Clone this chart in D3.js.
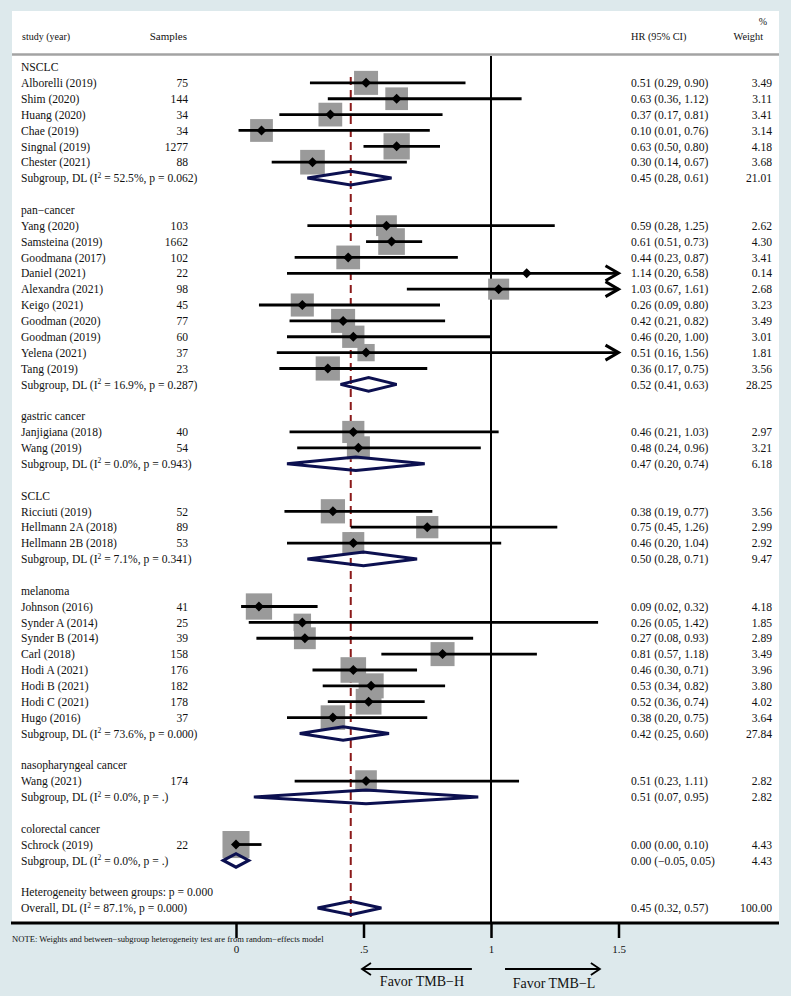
<!DOCTYPE html>
<html>
<head>
<meta charset="utf-8">
<script src="https://cdn.jsdelivr.net/npm/d3@7"></script>
<style>
  html, body { margin: 0; padding: 0; background: #dde9ec; }
  svg { display: block; }
  text { font-family: "Liberation Serif", "Times New Roman", serif; fill: #111; }
</style>
</head>
<body>
<svg id="chart" width="791" height="996"></svg>
<script>
// ---------------- DATA ----------------
const groupNames = ["NSCLC", "pan\u2212cancer", "gastric cancer", "SCLC", "melanoma", "nasopharyngeal cancer", "colorectal cancer"];

const studyNames = [
  "Alborelli (2019)", "Shim (2020)", "Huang (2020)", "Chae (2019)", "Singnal (2019)", "Chester (2021)",
  "Yang (2020)", "Samsteina (2019)", "Goodmana (2017)", "Daniel (2021)", "Alexandra (2021)", "Keigo (2021)",
  "Goodman (2020)", "Goodman (2019)", "Yelena (2021)", "Tang (2019)",
  "Janjigiana (2018)", "Wang (2019)",
  "Ricciuti (2019)", "Hellmann 2A (2018)", "Hellmann 2B (2018)",
  "Johnson (2016)", "Synder A (2014)", "Synder B (2014)", "Carl (2018)", "Hodi A (2021)", "Hodi B (2021)",
  "Hodi C (2021)", "Hugo (2016)",
  "Wang (2021)",
  "Schrock (2019)"
];
const studyGroup = [0,0,0,0,0,0, 1,1,1,1,1,1,1,1,1,1, 2,2, 3,3,3, 4,4,4,4,4,4,4,4, 5, 6];
const studySamples = [75,144,34,34,1277,88, 103,1662,102,22,98,45,77,60,37,23, 40,54, 52,89,53, 41,25,39,158,176,182,178,37, 174, 22];
const studyHR = [0.51,0.63,0.37,0.10,0.63,0.30, 0.59,0.61,0.44,1.14,1.03,0.26,0.42,0.46,0.51,0.36, 0.46,0.48, 0.38,0.75,0.46, 0.09,0.26,0.27,0.81,0.46,0.53,0.52,0.38, 0.51, 0.00];
const studyLo = [0.29,0.36,0.17,0.01,0.50,0.14, 0.28,0.51,0.23,0.20,0.67,0.09,0.21,0.20,0.16,0.17, 0.21,0.24, 0.19,0.45,0.20, 0.02,0.05,0.08,0.57,0.30,0.34,0.36,0.20, 0.23, 0.00];
const studyHi = [0.90,1.12,0.81,0.76,0.80,0.67, 1.25,0.73,0.87,6.58,1.61,0.80,0.82,1.00,1.56,0.75, 1.03,0.96, 0.77,1.26,1.04, 0.32,1.42,0.93,1.18,0.71,0.82,0.74,0.75, 1.11, 0.10];
const studyWeight = [3.49,3.11,3.41,3.14,4.18,3.68, 2.62,4.30,3.41,0.14,2.68,3.23,3.49,3.01,1.81,3.56, 2.97,3.21, 3.56,2.99,2.92, 4.18,1.85,2.89,3.49,3.96,3.80,4.02,3.64, 2.82, 4.43];

const subHR = [0.45, 0.52, 0.47, 0.50, 0.42, 0.51, 0.00];
const subLo = [0.28, 0.41, 0.20, 0.28, 0.25, 0.07, -0.05];
const subHi = [0.61, 0.63, 0.74, 0.71, 0.60, 0.95, 0.05];
const subWeight = [21.01, 28.25, 6.18, 9.47, 27.84, 2.82, 4.43];
const subI2 = ["52.5", "16.9", "0.0", "7.1", "73.6", "0.0", "0.0"];
const subP = ["0.062", "0.287", "0.943", "0.341", "0.000", ".", "."];

const overallHR = 0.45, overallLo = 0.32, overallHi = 0.57, overallWeight = 100.00;
const overallI2 = "87.1", overallP = "0.000";
const hetBetweenP = "0.000";

const xTicks = [0, 0.5, 1, 1.5];
const xTickLabels = ["0", ".5", "1", "1.5"];

// ---------------- LAYOUT ----------------
const svg = d3.select("#chart");
const W = 791, H = 996;
const panel = {x: 12, y: 11, w: 767, h: 912};
const xMax = 1.5;
const x = d3.scaleLinear().domain([0, xMax]).range([236, 618.5]);
const nRows = 54;
const y = d3.scaleLinear().domain([0, nRows - 1]).range([67, 908]);
const side = d3.scaleSqrt().domain([0, 4.43]).range([0, 27.05]);
const f2 = d3.format(".2f");
const FS = 11.6;
const colLabel = 21, colSamples = 188, colHR = 631, colWeight = 772;
const navy = "#0c1050";

// build rows
const rows = [];
let r = 0;
groupNames.forEach((g, gi) => {
  rows.push({type: "group", row: r++, label: g});
  studyNames.forEach((s, si) => {
    if (studyGroup[si] === gi) {
      rows.push({type: "study", row: r++, label: s, n: studySamples[si], hr: studyHR[si], lo: studyLo[si], hi: studyHi[si], w: studyWeight[si]});
    }
  });
  rows.push({type: "sub", row: r++, i2: subI2[gi], p: subP[gi], hr: subHR[gi], lo: subLo[gi], hi: subHi[gi], w: subWeight[gi]});
  r++; // blank
});
rows.push({type: "het", row: r++, label: "Heterogeneity between groups: p = " + hetBetweenP});
rows.push({type: "overall", row: r++, i2: overallI2, p: overallP, hr: overallHR, lo: overallLo, hi: overallHi, w: overallWeight});

// background
svg.append("rect").attr("width", W).attr("height", H).attr("fill", "#dde9ec");
svg.append("rect").attr("x", panel.x).attr("y", panel.y).attr("width", panel.w).attr("height", panel.h).attr("fill", "#ffffff");

// headers
svg.append("text").attr("x", 22).attr("y", 39.5).attr("font-size", 10).text("study (year)");
svg.append("text").attr("x", 187).attr("y", 39.5).attr("font-size", 11).attr("text-anchor", "end").text("Samples");
svg.append("text").attr("x", colHR).attr("y", 40).attr("font-size", 10.3).text("HR (95% CI)");
svg.append("text").attr("x", 763).attr("y", 40).attr("font-size", 10.3).attr("text-anchor", "end").text("Weight");
svg.append("text").attr("x", 767).attr("y", 25).attr("font-size", 10).attr("text-anchor", "end").text("%");
svg.append("line").attr("x1", panel.x).attr("x2", panel.x + panel.w).attr("y1", 54.5).attr("y2", 54.5)
  .attr("stroke", "#a3a3a3").attr("stroke-width", 2.5);

// vertical no-effect line
svg.append("line").attr("x1", x(1)).attr("x2", x(1)).attr("y1", 56).attr("y2", panel.y + panel.h)
  .attr("stroke", "#000").attr("stroke-width", 2);

// overall dashed line
svg.append("line").attr("x1", x(overallHR)).attr("x2", x(overallHR)).attr("y1", y(0) + 10).attr("y2", panel.y + panel.h - 5)
  .attr("stroke", "#8b1a1a").attr("stroke-width", 2).attr("stroke-dasharray", "8,5");

const studies = rows.filter(d => d.type === "study");

// weight squares
svg.append("g").selectAll("rect").data(studies).join("rect")
  .attr("x", d => x(d.hr) - side(d.w) / 2)
  .attr("y", d => y(d.row) - side(d.w) / 2)
  .attr("width", d => side(d.w))
  .attr("height", d => side(d.w))
  .attr("fill", "#9a9a9a");

// CI lines
svg.append("g").selectAll("line").data(studies).join("line")
  .attr("x1", d => x(d.lo))
  .attr("x2", d => x(Math.min(d.hi, xMax)))
  .attr("y1", d => y(d.row)).attr("y2", d => y(d.row))
  .attr("stroke", "#000").attr("stroke-width", 2.8);

// arrows for clipped CIs
svg.append("g").selectAll("path").data(studies.filter(d => d.hi > xMax)).join("path")
  .attr("d", d => {
    const tx = x(xMax), ty = y(d.row);
    return `M${tx - 13},${ty - 7.5}L${tx},${ty}L${tx - 13},${ty + 7.5}`;
  })
  .attr("fill", "none").attr("stroke", "#000").attr("stroke-width", 3);

// point estimates
svg.append("g").selectAll("path").data(studies).join("path")
  .attr("d", d => {
    const cx = x(d.hr), cy = y(d.row), s = 5;
    return `M${cx},${cy - s}L${cx + s},${cy}L${cx},${cy + s}L${cx - s},${cy}Z`;
  })
  .attr("fill", "#000");

// pooled diamonds
const pooled = rows.filter(d => d.type === "sub" || d.type === "overall");
svg.append("g").selectAll("path").data(pooled).join("path")
  .attr("d", d => {
    const cy = y(d.row), h = 6.8;
    return `M${x(d.lo)},${cy}L${x(d.hr)},${cy - h}L${x(d.hi)},${cy}L${x(d.hr)},${cy + h}Z`;
  })
  .attr("fill", "none").attr("stroke", navy).attr("stroke-width", 3).attr("stroke-linejoin", "miter");

// text rows
const tg = svg.append("g").attr("font-size", FS);
rows.forEach(d => {
  const by = y(d.row) + 4.2;
  if (d.type === "group" || d.type === "het" || d.type === "study") {
    tg.append("text").attr("x", colLabel).attr("y", by).text(d.label);
  }
  if (d.type === "sub" || d.type === "overall") {
    const t = tg.append("text").attr("x", colLabel).attr("y", by);
    t.append("tspan").text((d.type === "sub" ? "Subgroup" : "Overall") + ", DL (I");
    t.append("tspan").attr("font-size", 7.5).attr("dy", -4.5).text("2");
    t.append("tspan").attr("dy", 4.5).text(` = ${d.i2}%, p = ${d.p})`);
  }
  if (d.type === "study") {
    tg.append("text").attr("x", colSamples).attr("y", by).attr("text-anchor", "end").text(d.n);
  }
  if (d.type === "study" || d.type === "sub" || d.type === "overall") {
    tg.append("text").attr("x", colHR).attr("y", by).text(`${f2(d.hr)} (${f2(d.lo)}, ${f2(d.hi)})`);
    tg.append("text").attr("x", colWeight).attr("y", by).attr("text-anchor", "end").text(f2(d.w));
  }
});

// x axis
const axisY = panel.y + panel.h;
const axisG = svg.append("g").attr("transform", `translate(0,${axisY})`)
  .call(d3.axisBottom(x).tickValues(xTicks).tickFormat((v, i) => xTickLabels[i]).tickSize(15).tickPadding(7));
axisG.select(".domain").remove();
axisG.selectAll(".tick line").attr("stroke", "#000").attr("stroke-width", 2.5);
axisG.selectAll(".tick text").attr("font-family", "'Liberation Serif', 'Times New Roman', serif").attr("font-size", 11).attr("fill", "#111");
svg.append("line").attr("x1", 11).attr("x2", 779).attr("y1", axisY).attr("y2", axisY)
  .attr("stroke", "#000").attr("stroke-width", 3);

// note
svg.append("text").attr("x", 12).attr("y", 942).attr("font-size", 8.6)
  .text("NOTE: Weights and between\u2212subgroup heterogeneity test are from random\u2212effects model");

// favour arrows
const ay = 969;
svg.append("path").attr("d", `M${x(0.925)},${ay}L${x(0.494)},${ay}M${x(0.494) + 9},${ay - 6}L${x(0.494)},${ay}L${x(0.494) + 9},${ay + 6}`)
  .attr("fill", "none").attr("stroke", "#000").attr("stroke-width", 1.8);
svg.append("path").attr("d", `M${x(1.055)},${ay}L${x(1.427)},${ay}M${x(1.427) - 9},${ay - 6}L${x(1.427)},${ay}L${x(1.427) - 9},${ay + 6}`)
  .attr("fill", "none").attr("stroke", "#000").attr("stroke-width", 1.8);
svg.append("text").attr("x", 422).attr("y", 986).attr("font-size", 14).attr("text-anchor", "middle").text("Favor TMB\u2212H");
svg.append("text").attr("x", 554).attr("y", 988).attr("font-size", 14).attr("text-anchor", "middle").text("Favor TMB\u2212L");
</script>
</body>
</html>
